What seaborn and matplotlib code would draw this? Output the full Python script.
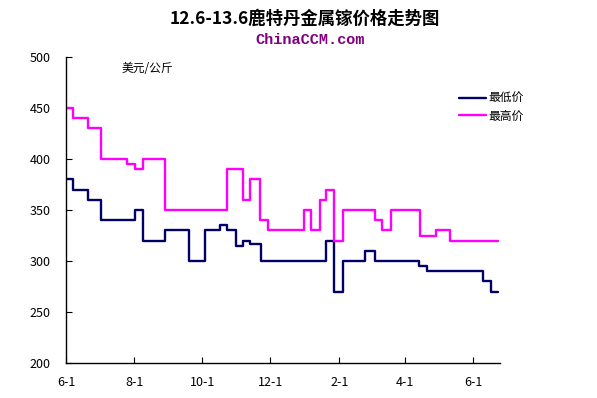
import matplotlib
matplotlib.use("Agg")
import matplotlib.pyplot as plt
import pandas as pd
import seaborn as sns

# change points of the two price series (USD/kg)
low_dates = ["2012-06-01", "2012-06-07", "2012-06-21", "2012-07-02", "2012-08-02",
             "2012-08-09", "2012-08-29", "2012-09-19", "2012-10-04", "2012-10-17",
             "2012-10-23", "2012-10-31", "2012-11-07", "2012-11-13", "2012-11-23",
             "2013-01-20", "2013-01-27", "2013-02-04", "2013-02-24", "2013-03-05",
             "2013-04-13", "2013-04-21", "2013-06-10", "2013-06-17", "2013-06-23"]
low_values = [380, 370, 360, 340, 350, 320, 330, 300, 330, 335,
              330, 315, 320, 317, 300, 320, 270, 300, 310, 300,
              295, 290, 280, 270, 270]

high_dates = ["2012-06-01", "2012-06-07", "2012-06-21", "2012-07-02", "2012-07-26",
              "2012-08-02", "2012-08-09", "2012-08-29", "2012-10-23", "2012-11-07",
              "2012-11-13", "2012-11-22", "2012-11-29", "2012-12-31", "2013-01-07",
              "2013-01-15", "2013-01-20", "2013-01-27", "2013-02-04", "2013-03-05",
              "2013-03-11", "2013-03-19", "2013-04-14", "2013-04-29", "2013-05-11",
              "2013-06-23"]
high_values = [450, 440, 430, 400, 395, 390, 400, 350, 390, 360,
               380, 340, 330, 350, 330, 360, 370, 320, 350, 340,
               330, 350, 325, 330, 320, 320]

series_names = ["最低价", "最高价"]
series_colors = ["#000066", "#ff00ff"]
tick_dates = ["2012-06-01", "2012-08-01", "2012-10-01", "2012-12-01",
              "2013-02-01", "2013-04-01", "2013-06-01"]
tick_labels = ["6-1", "8-1", "10-1", "12-1", "2-1", "4-1", "6-1"]
y_ticks = [200, 250, 300, 350, 400, 450, 500]

sns.set_theme(style="white")
plt.rcParams["font.family"] = ["Noto Sans CJK SC", "DejaVu Sans"]
plt.rcParams["text.color"] = "black"
plt.rcParams["xtick.color"] = "black"
plt.rcParams["ytick.color"] = "black"

df = pd.concat([
    pd.DataFrame({"date": pd.to_datetime(low_dates), "price": low_values, "series": series_names[0]}),
    pd.DataFrame({"date": pd.to_datetime(high_dates), "price": high_values, "series": series_names[1]}),
])

fig = plt.figure(figsize=(5.97, 3.98), dpi=100)
ax = fig.add_axes([0.1106, 0.0879, 0.7269, 0.7689])

for name, color in zip(series_names, series_colors):
    sub = df[df["series"] == name]
    sns.lineplot(data=sub, x="date", y="price", ax=ax, color=color,
                 drawstyle="steps-post", linewidth=1.7, label=name)

ax.set_xlim(pd.Timestamp("2012-06-01"), pd.Timestamp("2013-06-25"))
ax.set_ylim(200, 500)
ax.set_yticks(y_ticks)
ax.set_xticks(pd.to_datetime(tick_dates))
ax.set_xticklabels(tick_labels)
ax.set_xlabel("")
ax.set_ylabel("")
ax.tick_params(axis="both", direction="in", length=4, width=0.8, labelsize=9,
               left=True, bottom=True)
ax.tick_params(axis="x", pad=9)
ax.tick_params(axis="y", pad=11)
for side in ["top", "right"]:
    ax.spines[side].set_visible(False)
for side in ["left", "bottom"]:
    ax.spines[side].set_color("black")
    ax.spines[side].set_linewidth(1.0)

ax.text(0.129, 0.985, "美元/公斤", transform=ax.transAxes, fontsize=8.5,
        ha="left", va="top")

ax.legend(loc="upper left", bbox_to_anchor=(0.895, 0.9), frameon=False,
          fontsize=8.5, handlelength=2.3, handletextpad=0.2, labelspacing=0.35,
          borderaxespad=0)

fig.text(0.51, 0.953, "12.6-13.6鹿特丹金属镓价格走势图", ha="center", va="center",
         fontsize=12.5, fontweight="bold")
fig.text(0.52, 0.9, "ChinaCCM.com", ha="center", va="center", fontsize=11,
         color="#800080", family="Liberation Mono", fontweight="bold")

fig.savefig("out.png", dpi=100)
